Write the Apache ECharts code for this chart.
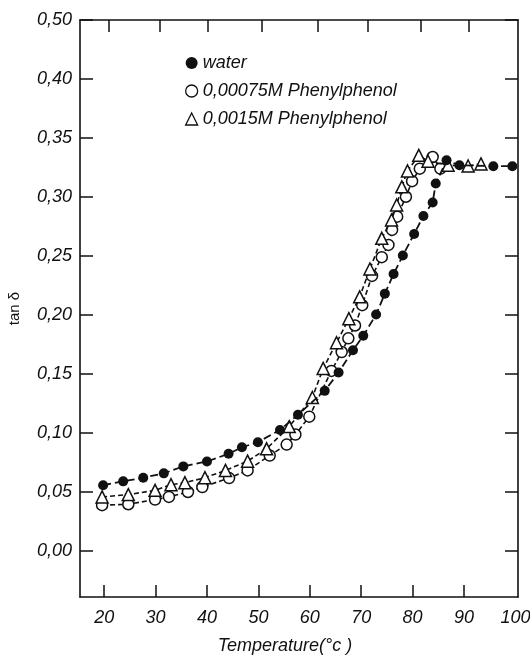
<!DOCTYPE html>
<html lang="en">

<head>
    <meta charset="UTF-8">
    <title>tan delta vs temperature</title>
    <style>
        * {
            margin: 0;
            padding: 0;
        }

        #main {
            width: 530px;
            height: 655px;
            background-color: #fff;
        }
    </style>
    <script src="https://cdn.jsdelivr.net/npm/echarts@6/dist/echarts.min.js"></script>
</head>

<body>
    <div id="main"></div>
    <script>
        // water
        var waterT = [19.8, 23.7, 27.6, 31.6, 35.4, 40.0, 44.2, 46.8, 49.9, 54.2, 57.7, 62.9, 65.6, 68.4, 70.4, 72.9,
            74.6, 76.3, 78.1, 80.3, 82.1, 83.9, 84.5, 86.6, 89.1, 95.7, 99.4];
        var waterTan = [0.0557, 0.0590, 0.0621, 0.0658, 0.0717, 0.0759, 0.0824, 0.0879, 0.0922, 0.1026, 0.1155, 0.1357,
            0.1512, 0.1701, 0.1824, 0.2004, 0.2181, 0.2347, 0.2504, 0.2687, 0.2839, 0.2954, 0.3114, 0.3311, 0.3269,
            0.3261, 0.3261];

        // 0,00075M Phenylphenol
        var lowT = [19.6, 24.7, 29.9, 32.6, 36.3, 39.1, 44.3, 47.9, 52.2, 55.5, 57.2, 59.9, 64.2, 66.2, 67.5, 68.8,
            70.2, 72.1, 74.0, 75.3, 76.0, 77.0, 78.7, 79.9, 81.4, 83.9, 85.4];
        var lowTan = [0.0388, 0.0396, 0.0436, 0.0458, 0.0500, 0.0542, 0.0618, 0.0683, 0.0809, 0.0902, 0.0987, 0.1138,
            0.1526, 0.1686, 0.1802, 0.1911, 0.2083, 0.2331, 0.2490, 0.2594, 0.2721, 0.2833, 0.3002, 0.3134, 0.3240,
            0.3339, 0.3240];

        // 0,0015M Phenylphenol
        var highT = [19.6, 24.7, 29.9, 33.0, 35.7, 39.6, 43.6, 47.9, 51.6, 56.0, 60.5, 62.6, 65.2, 67.6, 69.7, 71.7,
            74.0, 75.9, 76.9, 77.9, 79.0, 81.2, 83.0, 86.9, 90.8, 93.3];
        var highTan = [0.0458, 0.0478, 0.0514, 0.0562, 0.0579, 0.0621, 0.0683, 0.0761, 0.0866, 0.1054, 0.1301, 0.1547,
            0.1765, 0.1969, 0.2154, 0.2390, 0.2650, 0.2805, 0.2932, 0.3086, 0.3221, 0.3353, 0.3303, 0.3269, 0.3263,
            0.3280];

        var seriesNames = ['water', '0,00075M Phenylphenol', '0,0015M Phenylphenol'];
        var xTicks = [20, 30, 40, 50, 60, 70, 80, 90];
        var xLabels = [20, 30, 40, 50, 60, 70, 80, 90, 100];
        var topTicks = [20.9, 30.8, 40.1, 50.7, 61.6, 71.3, 81.6, 90.9];
        var yTicks = [0, 0.05, 0.10, 0.15, 0.20, 0.25, 0.30, 0.35, 0.40, 0.45];

        function pairs(xs, ys) {
            return xs.map(function (x, i) { return [x, ys[i]]; });
        }

        var ink = '#111';
        var font = 'Liberation Sans';

        var chartDom = document.getElementById('main');
        var myChart = echarts.init(chartDom);
        var option = {
            animation: false,
            backgroundColor: '#fff',
            grid: {
                left: 80,
                right: 12,
                top: 20,
                bottom: 58,
                outerBoundsMode: 'none'
            },
            legend: {
                orient: 'vertical',
                left: 180,
                top: 49,
                itemWidth: 12,
                itemHeight: 12,
                itemGap: 10,
                textStyle: {
                    color: ink,
                    fontSize: 18,
                    fontStyle: 'italic',
                    fontFamily: font
                },
                data: [
                    { name: seriesNames[0], icon: 'circle', itemStyle: { color: ink, borderWidth: 0 } },
                    { name: seriesNames[1], icon: 'circle', itemStyle: { color: '#fff', borderColor: ink, borderWidth: 1.3 } },
                    { name: seriesNames[2], icon: 'triangle', itemStyle: { color: '#fff', borderColor: ink, borderWidth: 1.3 } }
                ]
            },
            xAxis: [
                {
                    type: 'value',
                    position: 'bottom',
                    min: 15.3,
                    max: 100.5,
                    name: 'Temperature(°c )',
                    nameLocation: 'middle',
                    nameGap: 40,
                    nameTextStyle: {
                        color: ink,
                        fontSize: 18,
                        fontStyle: 'italic',
                        fontFamily: font,
                        padding: [0, 28, 0, 0]
                    },
                    axisLine: { show: true, onZero: false, lineStyle: { color: ink, width: 1.6 } },
                    axisTick: {
                        show: true, inside: true, length: 12,
                        customValues: xTicks,
                        lineStyle: { color: ink, width: 1.5 }
                    },
                    axisLabel: {
                        customValues: xLabels,
                        margin: 12,
                        color: ink,
                        fontSize: 18,
                        fontStyle: 'italic',
                        fontFamily: font
                    },
                    splitLine: { show: false }
                },
                {
                    type: 'value',
                    position: 'top',
                    min: 15.3,
                    max: 100.5,
                    axisLine: { show: true, onZero: false, lineStyle: { color: ink, width: 1.6 } },
                    axisTick: {
                        show: true, inside: true, length: 12,
                        customValues: topTicks,
                        lineStyle: { color: ink, width: 1.5 }
                    },
                    axisLabel: { show: false },
                    splitLine: { show: false }
                }
            ],
            yAxis: [
                {
                    type: 'value',
                    position: 'left',
                    min: -0.039,
                    max: 0.45,
                    name: 'tan δ',
                    nameLocation: 'middle',
                    nameGap: 58,
                    nameTextStyle: {
                        color: ink,
                        fontSize: 15,
                        fontFamily: font
                    },
                    axisLine: { show: true, onZero: false, lineStyle: { color: ink, width: 1.6 } },
                    axisTick: {
                        show: true, inside: true, length: 13,
                        customValues: yTicks,
                        lineStyle: { color: ink, width: 1.5 }
                    },
                    axisLabel: {
                        customValues: yTicks,
                        margin: 8,
                        color: ink,
                        fontSize: 18,
                        fontStyle: 'italic',
                        fontFamily: font,
                        // the scan labels its top tick 0,50
                        formatter: function (v) {
                            return v > 0.44 ? '0,50' : v.toFixed(2).replace('.', ',');
                        }
                    },
                    splitLine: { show: false }
                },
                {
                    type: 'value',
                    position: 'right',
                    min: -0.039,
                    max: 0.45,
                    axisLine: { show: true, onZero: false, lineStyle: { color: ink, width: 1.6 } },
                    axisTick: {
                        show: true, inside: true, length: 13,
                        customValues: yTicks,
                        lineStyle: { color: ink, width: 1.5 }
                    },
                    axisLabel: { show: false },
                    splitLine: { show: false }
                }
            ],
            series: [
                {
                    name: seriesNames[1],
                    type: 'line',
                    data: pairs(lowT, lowTan),
                    symbol: 'circle',
                    symbolSize: 11,
                    itemStyle: { color: '#fff', borderColor: ink, borderWidth: 1.5 },
                    lineStyle: { color: ink, width: 1.6, type: [5, 3] },
                    z: 3
                },
                {
                    name: seriesNames[2],
                    type: 'line',
                    data: pairs(highT, highTan),
                    symbol: 'triangle',
                    symbolSize: 12,
                    itemStyle: { color: '#fff', borderColor: ink, borderWidth: 1.5 },
                    lineStyle: { color: ink, width: 1.6, type: [5, 3] },
                    z: 4
                },
                {
                    name: seriesNames[0],
                    type: 'line',
                    data: pairs(waterT, waterTan),
                    symbol: 'circle',
                    symbolSize: 10,
                    itemStyle: { color: ink, borderWidth: 0 },
                    lineStyle: { color: ink, width: 1.8, type: [8, 4] },
                    z: 5
                }
            ]
        };
        myChart.setOption(option);
    </script>
</body>

</html>
